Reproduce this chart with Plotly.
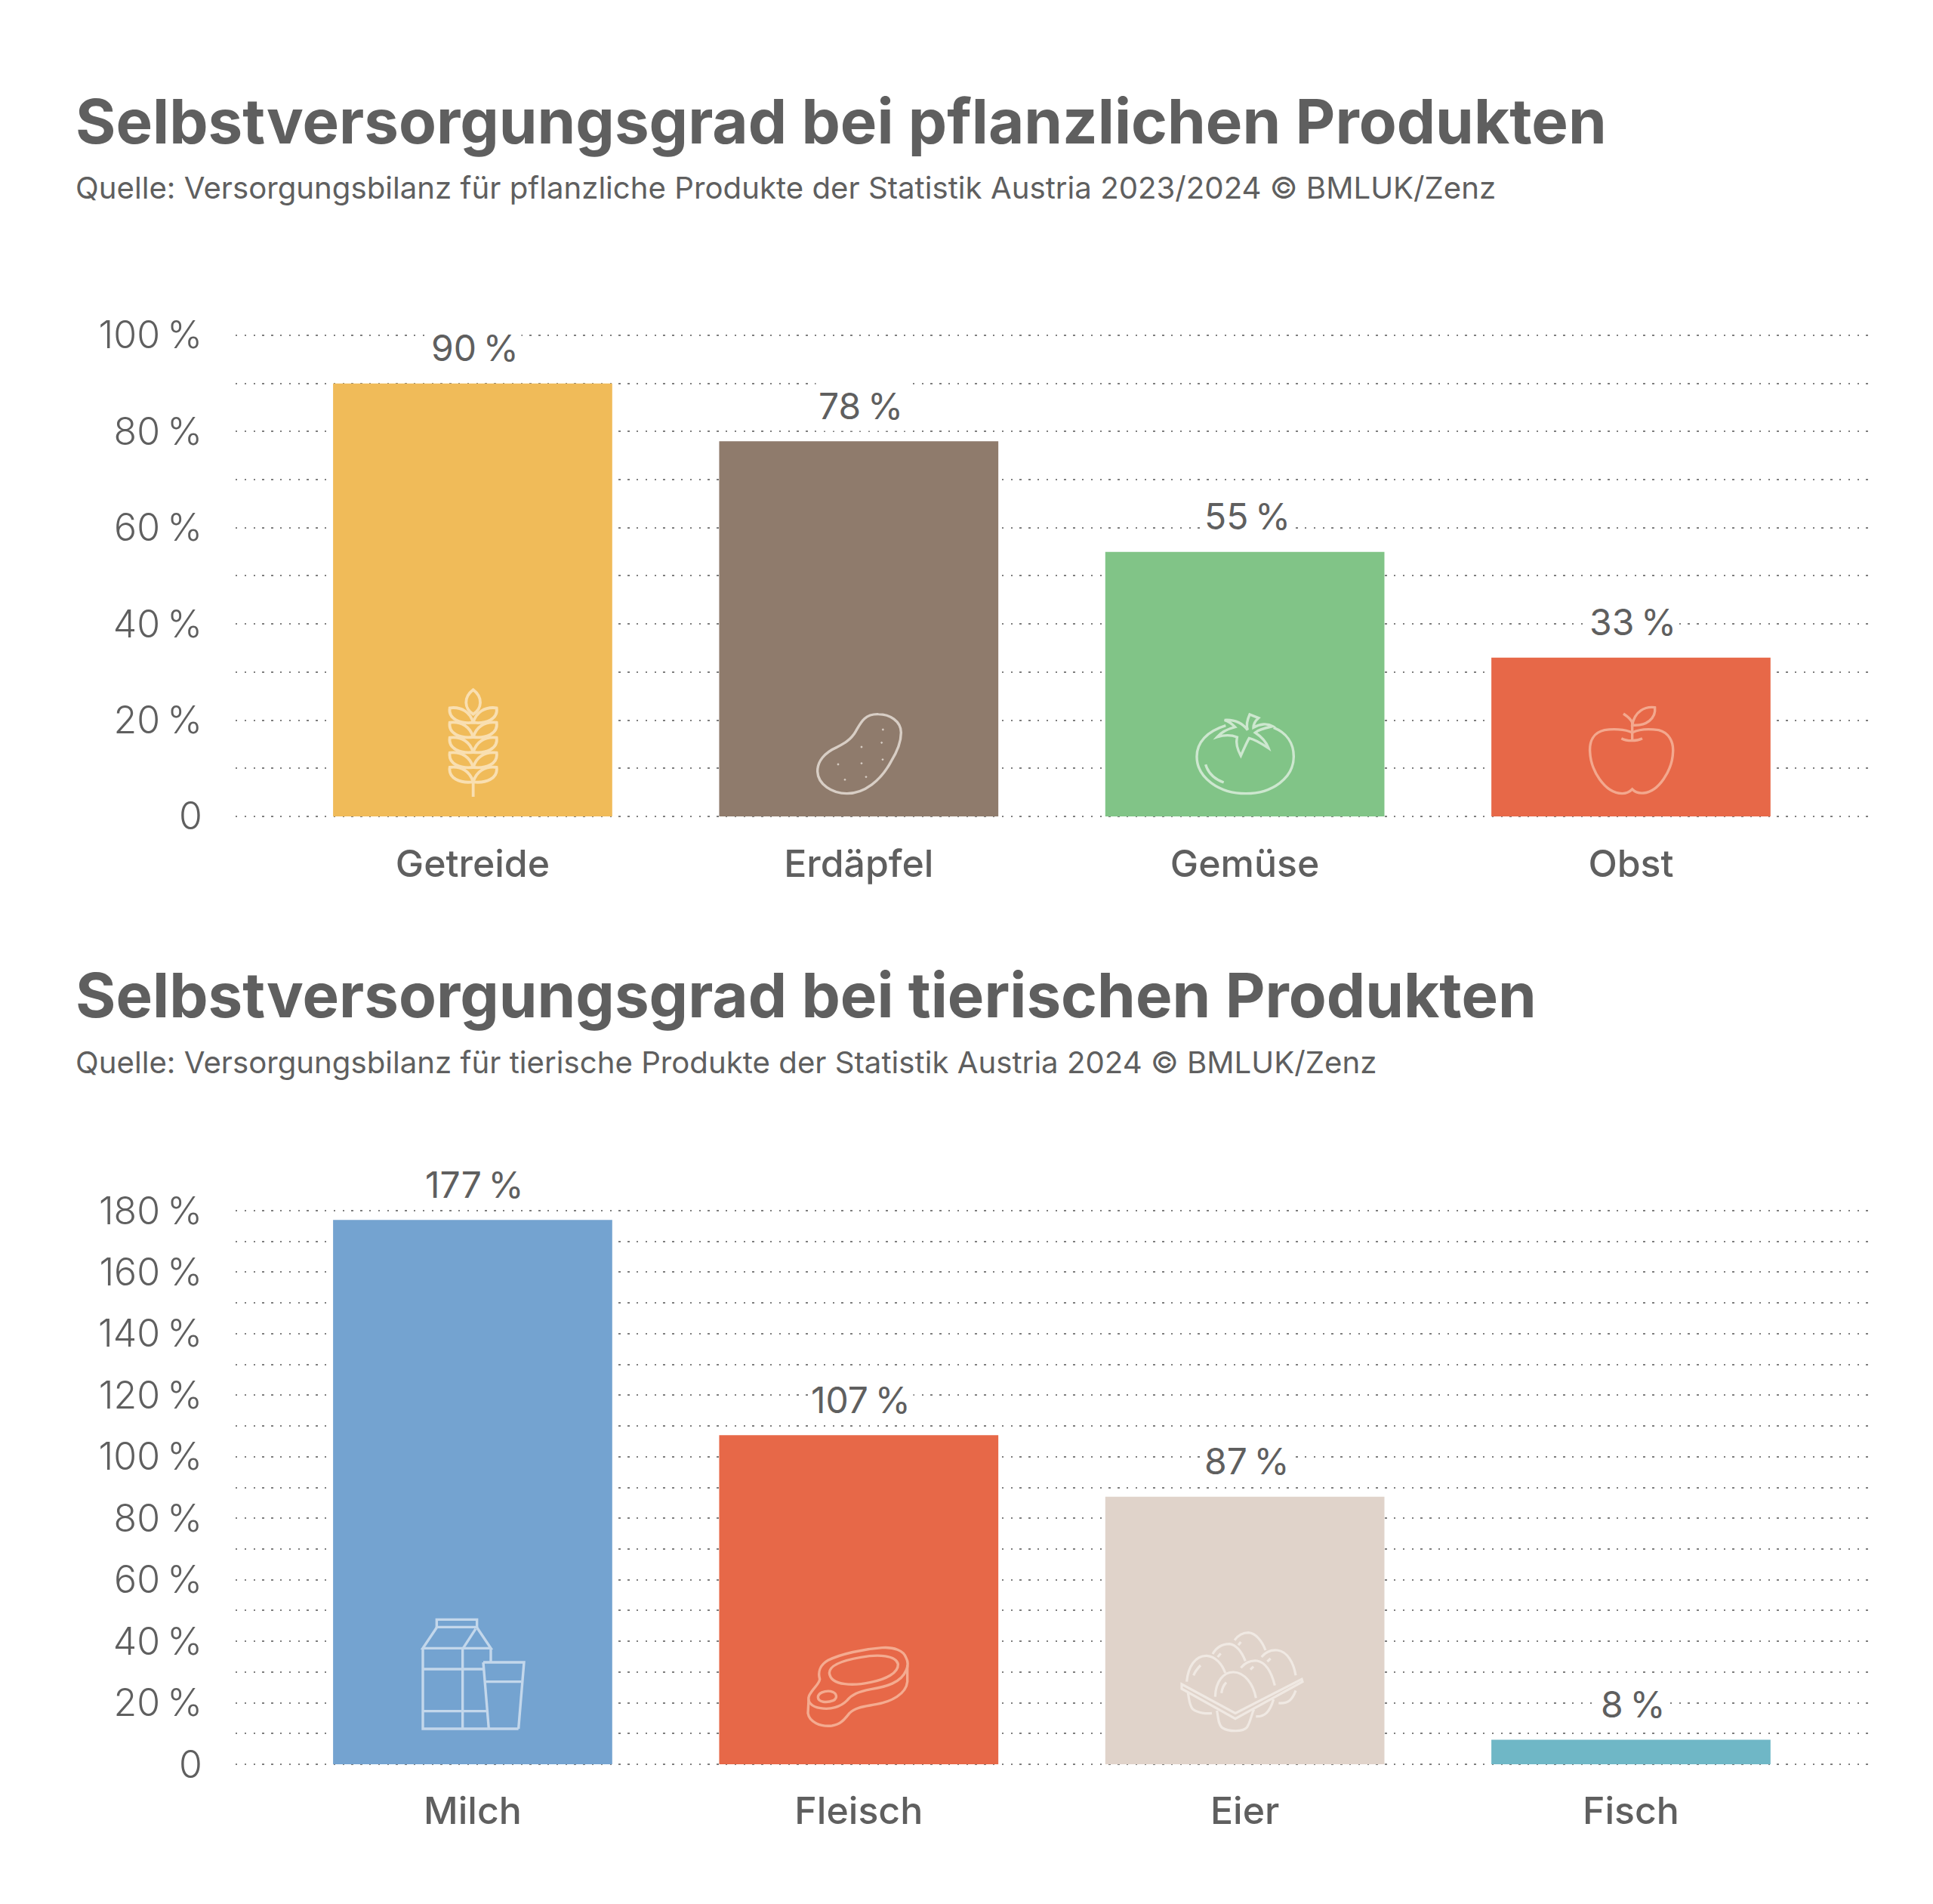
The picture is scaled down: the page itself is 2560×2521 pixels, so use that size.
import re
import plotly.graph_objects as go

W, H = 2560, 2521

# Chart data
plant_categories = ["Getreide", "Erdäpfel", "Gemüse", "Obst"]
plant_values = [90, 78, 55, 33]
plant_colors = ["#F0BB59", "#8F7B6C", "#81C487", "#E76848"]
plant_ticks = [0, 10, 20, 30, 40, 50, 60, 70, 80, 90, 100]

animal_categories = ["Milch", "Fleisch", "Eier", "Fisch"]
animal_values = [177, 107, 87, 8]
animal_colors = ["#74A3D0", "#E76848", "#E0D3CA", "#6FB7C6"]
animal_ticks = list(range(0, 190, 10))

plant_title = "Selbstversorgungsgrad bei pflanzlichen Produkten"
plant_source = "Quelle: Versorgungsbilanz für pflanzliche Produkte der Statistik Austria 2023/2024 © BMLUK/Zenz"
animal_title = "Selbstversorgungsgrad bei tierischen Produkten"
animal_source = "Quelle: Versorgungsbilanz für tierische Produkte der Statistik Austria 2024 © BMLUK/Zenz"

INK = "#5F5F5F"
FONT = "Inter"
NARROW = "\u202f"


def pct(v):
    return f"{v}{NARROW}%"


def tick_text(ticks):
    # Only every second gridline carries a label
    return [("0" if t == 0 else pct(t)) if t % 20 == 0 else "" for t in ticks]


XRANGE = [-0.614, 3.62]
XDOMAIN = [312 / W, 2477 / W]


def x_axis(anchor):
    return dict(
        domain=XDOMAIN, range=XRANGE, anchor=anchor, type="category", showgrid=False,
        showline=False, zeroline=False, ticks="", ticklabelstandoff=26, automargin=False,
        tickfont=dict(family=FONT, size=50, color=INK, weight=500),
    )


def y_axis(anchor, ticks, top_value, top_px, bottom_px):
    # A small overshoot keeps the first and last dotted gridlines on the plot
    pad = 0.5
    per_unit = (bottom_px - top_px) / top_value
    dom = [(H - bottom_px - pad * per_unit) / H, (H - top_px + pad * per_unit) / H]
    return dict(
        domain=dom, range=[-pad, top_value + pad], anchor=anchor, tickmode="array",
        tickvals=ticks, ticktext=tick_text(ticks), showgrid=True, gridcolor="#7E7E7E",
        gridwidth=2.2, griddash="2.4px,9.4px", zeroline=False, showline=False, ticks="",
        ticklabelstandoff=43, automargin=False,
        tickfont=dict(family=FONT, size=50, color=INK, weight=300),
    )


fig = go.Figure()
fig.add_bar(x=plant_categories, y=plant_values, marker=dict(color=plant_colors, line_width=0),
            width=0.723, xaxis="x", yaxis="y", hoverinfo="skip")
fig.add_bar(x=animal_categories, y=animal_values, marker=dict(color=animal_colors, line_width=0),
            width=0.723, xaxis="x2", yaxis="y2", hoverinfo="skip")

annotations = []
for cats, vals, xr, yr in [(plant_categories, plant_values, "x", "y"),
                           (animal_categories, animal_values, "x2", "y2")]:
    for c, v in zip(cats, vals):
        annotations.append(dict(
            x=c, y=v, xref=xr, yref=yr, text=pct(v), showarrow=False, yanchor="middle",
            yshift=47, xshift=3, bgcolor="#FFFFFF", borderpad=3,
            font=dict(family=FONT, size=48, color=INK, weight=400),
        ))

for text, y_px, size, weight in [(plant_title, 161, 81.6, 700), (plant_source, 248, 40.2, 400),
                                 (animal_title, 1317, 81.6, 700), (animal_source, 1406, 40.2, 400)]:
    annotations.append(dict(
        x=98 / W, y=1 - y_px / H, xref="paper", yref="paper", xanchor="left", yanchor="middle",
        text=text, showarrow=False, font=dict(family=FONT, size=size, color=INK, weight=weight),
    ))

# Pictograms inside the bars: outlines authored on a 570-unit grid, three units per pixel
NUM_PAIR = re.compile(r"(-?\d+(?:\.\d+)?),(-?\d+(?:\.\d+)?)")
shapes = []


def icon(ox, oy, paths, color, width=3.6, dots=()):
    def to_paper(m):
        px = ox + float(m.group(1)) / 3
        py = oy + float(m.group(2)) / 3
        return f"{px / W:.6f},{1 - py / H:.6f}"

    for p in paths:
        shapes.append(dict(type="path", xref="paper", yref="paper", layer="above",
                           path=NUM_PAIR.sub(to_paper, p), line=dict(color=color, width=width)))
    for x, y in dots:
        d = f"M{x - 5},{y} L{x},{y - 5} L{x + 5},{y} L{x},{y + 5} Z"
        shapes.append(dict(type="path", xref="paper", yref="paper", layer="above",
                           path=NUM_PAIR.sub(to_paper, d), fillcolor=color, line=dict(width=0)))


def wheat_leaves():
    paths = ["M290,85 C250,115 255,160 290,182 C325,160 330,115 290,85 Z", "M290,440 L290,510"]
    for t in (157, 215, 275, 335, 393):
        paths.append(f"M197,{t} C245,{t - 6} 278,{t + 18} 290,{t + 58} C240,{t + 64} 190,{t + 45} 197,{t} Z")
        paths.append(f"M383,{t} C335,{t - 6} 302,{t + 18} 290,{t + 58} C340,{t + 64} 390,{t + 45} 383,{t} Z")
    return paths


icon(530, 885, wheat_leaves(), "#F9DFB1", 3.8)

icon(1045, 920, [
    "M355,77 C300,75 285,110 265,145 C245,180 215,195 190,208 C140,230 112,265 113,305 "
    "C115,355 170,392 230,392 C300,392 365,340 405,265 C430,225 445,185 445,150 C445,105 400,77 355,77 Z"
], "#D8CEC5", 3.4, dots=[(373, 138), (368, 190), (372, 257), (288, 207), (288, 272),
                         (195, 276), (222, 337), (306, 326)])

icon(1555, 920, [
    "M205,122 C130,145 90,190 90,245 C90,330 180,392 285,392 C390,392 475,330 475,245 C475,190 445,150 395,130",
    "M125,277 C135,310 160,335 197,348",
    "M292,140 C285,120 290,100 300,78 L335,92 C320,105 315,120 315,130 C340,115 370,112 392,125 "
    "C370,130 340,135 322,150 C345,165 365,185 375,212 C350,195 325,178 298,172 C285,195 275,220 265,242 "
    "C250,215 245,190 250,168 C225,158 195,160 170,168 C190,145 215,135 242,128 C230,115 215,105 200,100 "
    "C235,98 270,110 292,140 Z",
], "#CDE7CF", 3.4)

icon(2065, 910, [
    "M290,180 C260,165 210,165 180,170 C135,180 120,215 122,255 C125,330 180,420 250,422 "
    "C270,422 280,415 290,405 C300,415 315,422 335,420 C395,415 450,330 452,255 C454,215 435,180 395,170 "
    "C360,165 320,165 290,180",
    "M290,213 L290,140 C285,125 270,115 255,105",
    "M247,203 C270,215 305,215 330,203",
    "M290,150 C300,95 340,75 380,80 C385,125 345,155 290,150 Z",
], "#F3A88E", 3.4)

icon(530, 2120, [
    "M145,73 L305,73 L305,103 L145,103 Z",
    "M145,105 L90,187 L360,187 L305,105",
    "M250,187 L300,110",
    "M90,187 L90,507 L470,507",
    "M248,187 L248,507",
    "M360,187 L360,240",
    "M90,270 L330,270",
    "M90,437 L345,437",
    "M330,243 L492,243 L470,507",
    "M330,243 L352,507",
    "M340,320 L482,320",
], "#C3D7EB", 3.4)

icon(1040, 2140, [
    "M480,165 C470,135 430,122 385,125 C310,130 220,150 170,175 C135,195 130,225 137,250 "
    "C135,270 110,285 95,315 C85,340 105,360 140,365 C180,372 220,360 245,335 C265,310 290,300 340,290 "
    "C400,280 460,265 480,215 C490,195 488,180 480,165 Z",
    "M175,225 C175,195 230,175 300,163 C370,150 440,155 448,190 C450,225 400,250 340,262 C280,275 180,280 175,225 Z",
    "M130,322 C130,305 155,295 180,298 C205,303 210,325 190,335 C165,345 130,342 130,322 Z",
    "M93,330 L90,385 C95,420 140,440 185,435 C220,430 235,410 255,385 C280,360 320,358 360,350 "
    "C420,340 480,310 485,260 L485,195",
], "#F4AB90", 3.4)

icon(1550, 2130, [
    "M178,350 C180,290 210,252 250,252 C295,252 330,300 340,355",
    "M45,300 L258,415 L522,280 L525,290 L258,437 L45,318 Z",
    "M65,290 C70,230 100,185 145,187 C180,190 205,220 218,255",
    "M168,180 C185,150 210,140 235,140 C265,145 285,175 298,208",
    "M255,125 C270,105 290,95 310,95 C340,97 365,130 378,165",
    "M280,235 C300,210 325,205 345,207 C385,215 405,265 415,305",
    "M362,192 C380,170 405,163 425,165 C465,170 490,215 498,265",
    "M70,335 C75,360 75,385 90,400 C110,415 145,418 165,415",
    "M185,405 C190,430 190,460 205,472 C230,490 290,490 305,470 C320,445 320,425 332,400",
    "M340,428 C375,430 395,410 410,360",
    "M430,375 C470,378 485,360 498,325",
    "M222,293 C210,305 205,320 203,335",
    "M120,225 C105,240 98,250 92,265",
    "M200,178 L188,192",
    "M280,132 L270,145",
    "M330,230 L318,242",
    "M398,198 L385,210",
], "#F0E9E3", 3.2)

fig.update_layout(
    width=W, height=H, margin=dict(l=0, r=0, t=0, b=0, pad=0), autosize=False,
    paper_bgcolor="#FFFFFF", plot_bgcolor="#FFFFFF", showlegend=False, barmode="overlay",
    xaxis=x_axis("y"), yaxis=y_axis("x", plant_ticks, 100, 444, 1081),
    xaxis2=x_axis("y2"), yaxis2=y_axis("x2", animal_ticks, 180, 1603, 2336),
    annotations=annotations, shapes=shapes,
)

fig.write_html("out.html", config=dict(displayModeBar=False))
